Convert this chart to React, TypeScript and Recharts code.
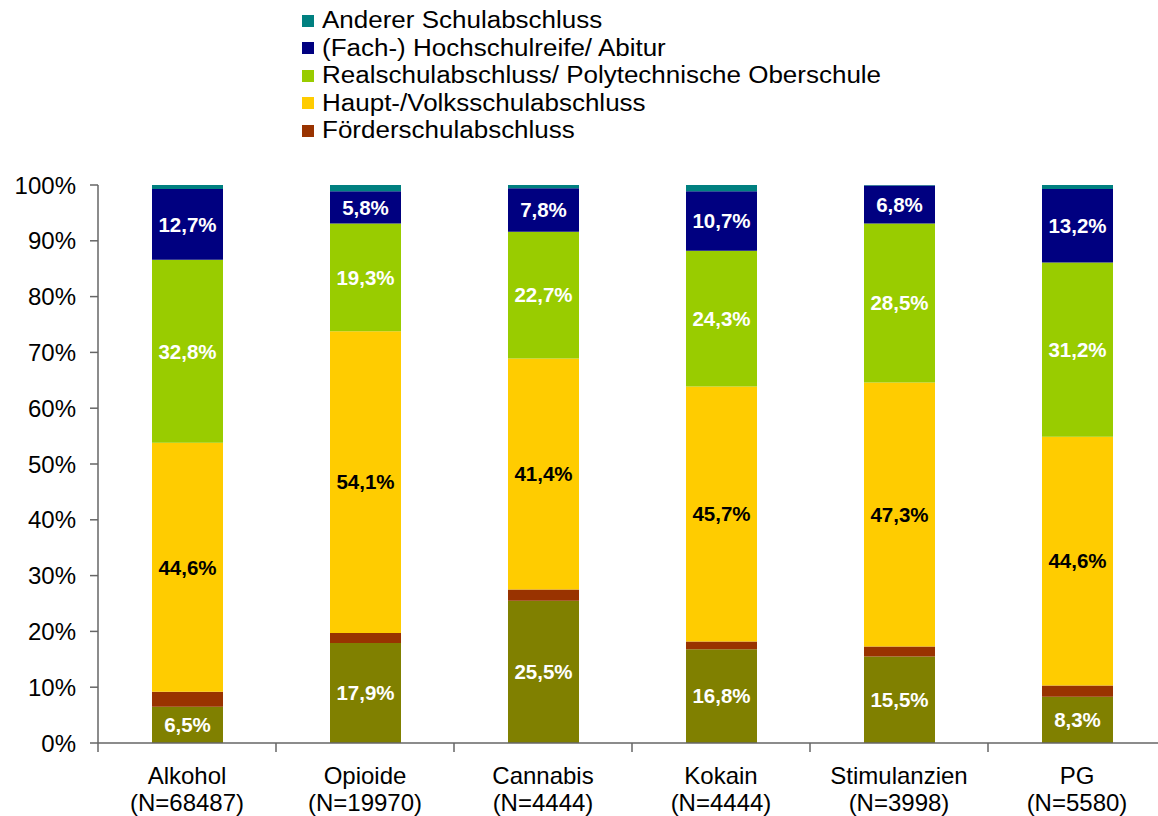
import { BarChart, Bar, XAxis, YAxis, LabelList } from 'recharts'

const categories = ['Alkohol', 'Opioide', 'Cannabis', 'Kokain', 'Stimulanzien', 'PG']
const sampleSizes = ['(N=68487)', '(N=19970)', '(N=4444)', '(N=4444)', '(N=3998)', '(N=5580)']

const ohne = [6.5, 17.9, 25.5, 16.8, 15.5, 8.3]
const foerder = [2.7, 1.8, 2.0, 1.4, 1.8, 2.0]
const haupt = [44.6, 54.1, 41.4, 45.7, 47.3, 44.6]
const real = [32.8, 19.3, 22.7, 24.3, 28.5, 31.2]
const abitur = [12.7, 5.8, 7.8, 10.7, 6.8, 13.2]
const anderer = [0.7, 1.1, 0.6, 1.1, 0.1, 0.7]

const yTicks = [0, 10, 20, 30, 40, 50, 60, 70, 80, 90, 100]

const series = [
  { key: 'ohne', name: 'Ohne Schulabschluss', color: '#808000', label: '#ffffff', legend: false },
  { key: 'foerder', name: 'Förderschulabschluss', color: '#993300', label: null, legend: true },
  { key: 'haupt', name: 'Haupt-/Volksschulabschluss', color: '#FFCC00', label: '#000000', legend: true },
  { key: 'real', name: 'Realschulabschluss/ Polytechnische Oberschule', color: '#99CC00', label: '#ffffff', legend: true },
  { key: 'abitur', name: '(Fach-) Hochschulreife/ Abitur', color: '#000080', label: '#ffffff', legend: true },
  { key: 'anderer', name: 'Anderer Schulabschluss', color: '#008080', label: null, legend: true },
]

const data = categories.map((c, i) => ({
  name: c,
  n: sampleSizes[i],
  ohne: ohne[i],
  foerder: foerder[i],
  haupt: haupt[i],
  real: real[i],
  abitur: abitur[i],
  anderer: anderer[i],
}))

const FONT = 'Arial, "Liberation Sans", sans-serif'
const BAND = 178

const fmt = (v: any) => Number(v).toFixed(1).replace('.', ',') + '%'

function CategoryTick({ x, y, payload, index }: any) {
  const d = data[index]
  return (
    <g>
      <line x1={x - BAND / 2} x2={x - BAND / 2} y1={y} y2={y + 9} stroke="#666" strokeWidth={1.5} />
      {index === data.length - 1 && (
        <line x1={x + BAND / 2} x2={x + BAND / 2} y1={y} y2={y + 9} stroke="#666" strokeWidth={1.5} />
      )}
      <text x={x} y={y + 41} textAnchor="middle" fontSize={24} fill="#000" fontFamily={FONT}>
        {payload.value}
      </text>
      <text x={x} y={y + 68} textAnchor="middle" fontSize={24} fill="#000" fontFamily={FONT}>
        {d.n}
      </text>
    </g>
  )
}

// legende separat, damit sie den plotbereich nicht verschiebt
function LegendList() {
  const items = series.filter((s) => s.legend).reverse()
  return (
    <div style={{ position: 'absolute', top: 7, left: 302, fontFamily: FONT }}>
      {items.map((s) => (
        <div key={s.key} style={{ display: 'flex', alignItems: 'center', height: 27.5 }}>
          <span style={{ width: 12, height: 12, background: s.color, marginRight: 8, flexShrink: 0 }} />
          <span
            style={{
              fontSize: 23,
              color: '#000',
              whiteSpace: 'nowrap',
              display: 'inline-block',
              transform: 'scaleX(1.13)',
              transformOrigin: 'left center',
            }}
          >
            {s.name}
          </span>
        </div>
      ))}
    </div>
  )
}

export default function App() {
  return (
    <div style={{ position: 'absolute', left: 0, top: 0, width: 1158, height: 816, overflow: 'hidden', background: '#fff' }}>
      <BarChart
        width={1170}
        height={816}
        data={data}
        barSize={71}
        margin={{ top: 185, right: 4, bottom: 0, left: 0 }}
      >
        <XAxis
          dataKey="name"
          height={73}
          interval={0}
          tickSize={0}
          tickMargin={0}
          tickLine={false}
          axisLine={{ stroke: '#666', strokeWidth: 1.5 }}
          tick={<CategoryTick />}
        />
        <YAxis
          type="number"
          domain={[0, 100]}
          ticks={yTicks}
          width={98}
          tickSize={8}
          tickMargin={14}
          tickFormatter={(v) => v + '%'}
          tick={{ fontSize: 24, fill: '#000', fontFamily: FONT }}
          tickLine={{ stroke: '#666', strokeWidth: 1.5 }}
          axisLine={{ stroke: '#666', strokeWidth: 1.5 }}
        />
        {series.map((s) => (
          <Bar key={s.key} dataKey={s.key} name={s.name} stackId="a" fill={s.color} isAnimationActive={false}>
            {s.label && (
              <LabelList
                dataKey={s.key}
                position="center"
                formatter={fmt}
                fill={s.label}
                fontSize={20.5}
                fontWeight="bold"
                fontFamily={FONT}
              />
            )}
          </Bar>
        ))}
      </BarChart>
      <LegendList />
    </div>
  )
}
